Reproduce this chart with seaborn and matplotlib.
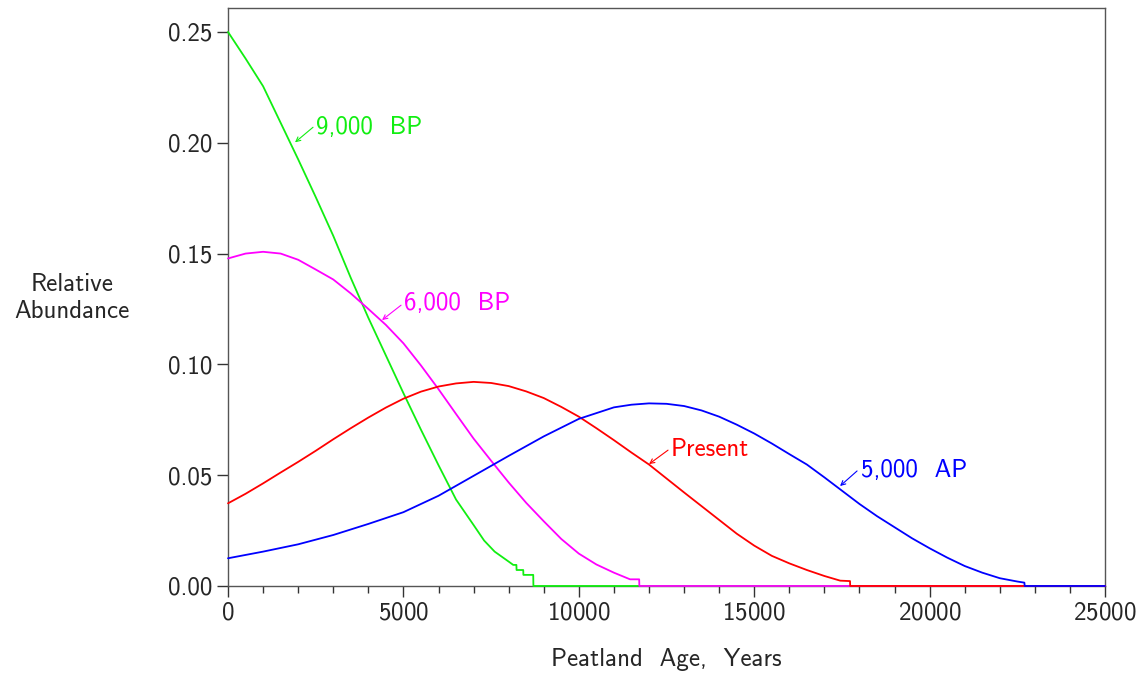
import matplotlib
matplotlib.use("Agg")
import matplotlib.pyplot as plt
import pandas as pd
import seaborn as sns
from matplotlib.ticker import FormatStrFormatter, MultipleLocator

# 9,000 BP
green_x = [0, 500, 1000, 1500, 2000, 2500, 3000, 3500, 4000, 4500, 5000, 5500, 6000,
           6500, 7000, 7300, 7600, 8000, 8130, 8220, 8225, 8415, 8420, 8700, 8705, 25000]
green_y = [0.250, 0.238, 0.2255, 0.209, 0.1925, 0.1755, 0.158, 0.139, 0.121, 0.104, 0.087,
           0.0705, 0.0545, 0.039, 0.0275, 0.0205, 0.0155, 0.0110, 0.0095, 0.0095, 0.0072,
           0.0072, 0.0050, 0.0050, 0.0, 0.0]

# 6,000 BP
magenta_x = [0, 500, 1000, 1500, 2000, 2500, 3000, 3500, 4000, 4500, 5000, 5500, 6000, 6500,
             7000, 7500, 8000, 8500, 9000, 9500, 10000, 10500, 11000, 11460, 11720, 11725, 25000]
magenta_y = [0.1478, 0.1500, 0.1508, 0.1500, 0.1472, 0.1428, 0.1383, 0.1320, 0.1250, 0.1178,
             0.1095, 0.0995, 0.0888, 0.0776, 0.0665, 0.0565, 0.0467, 0.0375, 0.0292, 0.0212,
             0.0146, 0.0097, 0.0060, 0.0030, 0.0030, 0.0, 0.0]

# Present
red_x = [0, 500, 1000, 1500, 2000, 2500, 3000, 3500, 4000, 4500, 5000, 5500, 6000, 6500, 7000,
         7500, 8000, 8500, 9000, 9500, 10000, 10500, 11000, 11500, 12000, 12500, 13000, 13500,
         14000, 14500, 15000, 15500, 16000, 16500, 17000, 17450, 17730, 17735, 25000]
red_y = [0.0373, 0.0416, 0.0463, 0.0512, 0.0560, 0.0610, 0.0662, 0.0712, 0.0760, 0.0805,
         0.0845, 0.0877, 0.0900, 0.0914, 0.0921, 0.0916, 0.0902, 0.0878, 0.0848, 0.0808,
         0.0764, 0.0712, 0.0658, 0.0602, 0.0548, 0.0485, 0.0422, 0.0360, 0.0298, 0.0236,
         0.0182, 0.0136, 0.0102, 0.0072, 0.0045, 0.0024, 0.0022, 0.0, 0.0]

# 5,000 AP
blue_x = [0, 1000, 2000, 3000, 4000, 5000, 6000, 7000, 8000, 9000, 10000, 11000, 11500, 12000,
          12500, 13000, 13500, 14000, 14500, 15000, 15500, 16000, 16500, 17000, 17500, 18000,
          18500, 19000, 19500, 20000, 20500, 21000, 21500, 22000, 22500, 22700, 22710, 25000]
blue_y = [0.0125, 0.0155, 0.0188, 0.0230, 0.0280, 0.0333, 0.0407, 0.0497, 0.0587, 0.0675,
          0.0754, 0.0806, 0.0818, 0.0824, 0.0822, 0.0812, 0.0792, 0.0764, 0.0728, 0.0688,
          0.0643, 0.0595, 0.0548, 0.0490, 0.0430, 0.0370, 0.0315, 0.0265, 0.0215, 0.0170,
          0.0128, 0.0090, 0.0060, 0.0035, 0.0020, 0.0015, 0.0, 0.0]

labels = ["9,000  BP", "6,000  BP", "Present", "5,000  AP"]
colors = ["#11ee11", "#ff00ff", "#ff0000", "#0000ff"]
series = [(green_x, green_y), (magenta_x, magenta_y), (red_x, red_y), (blue_x, blue_y)]

# label text anchor, arrow tail, arrow tip
label_pos = [(2509, 0.2070), (5017, 0.1276), (12628, 0.0618), (18044, 0.0523)]
arrow_tail = [(2423, 0.2070), (4932, 0.1267), (12543, 0.0613), (17931, 0.0519)]
arrow_tip = [(1910, 0.2002), (4390, 0.1200), (12001, 0.0550), (17446, 0.0451)]

frames = []
for name, (xs, ys) in zip(labels, series):
    frames.append(pd.DataFrame({"age": xs, "abundance": ys, "period": name}))
df = pd.concat(frames, ignore_index=True)

sns.set_theme(style="white")
plt.rcParams["font.family"] = ["cmss10", "DejaVu Sans"]
plt.rcParams["axes.formatter.use_mathtext"] = True

fig = plt.figure(figsize=(11.43, 6.75), dpi=100)
ax = fig.add_axes([0.1995, 0.1319, 0.7673, 0.8562])

for name, color in zip(labels, colors):
    sub = df[df["period"] == name]
    sns.lineplot(data=sub, x="age", y="abundance", color=color, lw=1.3,
                 estimator=None, sort=False, ax=ax, zorder=3, clip_on=False)

for name, color, lp, tail, tip in zip(labels, colors, label_pos, arrow_tail, arrow_tip):
    ax.text(lp[0], lp[1], name, color=color, fontsize=18, ha="left", va="center")
    ax.annotate("", xy=tip, xytext=tail,
                arrowprops=dict(arrowstyle="->", color=color, lw=0.8,
                                shrinkA=0, shrinkB=0, mutation_scale=8))

ax.set_xlim(0, 25000)
ax.set_ylim(0, 0.2608)
ax.xaxis.set_major_locator(MultipleLocator(5000))
ax.xaxis.set_minor_locator(MultipleLocator(1000))
ax.yaxis.set_major_locator(MultipleLocator(0.05))
ax.yaxis.set_major_formatter(FormatStrFormatter("%.2f"))
ax.tick_params(axis="both", which="major", direction="out", length=8, width=1,
               labelsize=18, color="#333333", bottom=True, left=True)
ax.tick_params(axis="x", which="minor", direction="out", length=5, width=1,
               color="#333333", bottom=True)

for sp in ax.spines.values():
    sp.set_color("#555555")
    sp.set_linewidth(1.0)

ax.set_xlabel("Peatland  Age,  Years", fontsize=18)
ax.xaxis.set_label_coords(0.5, -0.128)
ax.xaxis.label.set_va("center")
ax.set_ylabel("Relative\nAbundance", fontsize=18, rotation=0, ha="center", va="center")
ax.yaxis.set_label_coords(-0.178, 0.498)

fig.savefig("out.png", dpi=100)
